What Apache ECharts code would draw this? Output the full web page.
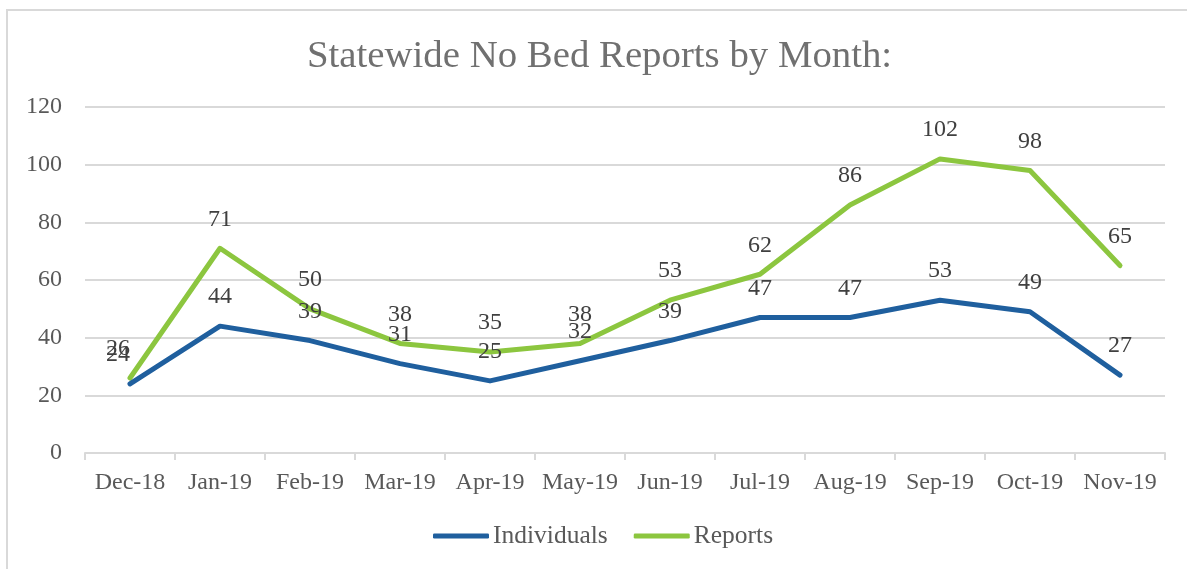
<!DOCTYPE html>
<html>
<head>
<meta charset="utf-8">
<script src="https://cdn.jsdelivr.net/npm/echarts@6/dist/echarts.min.js"></script>
<style>
  html, body { margin: 0; padding: 0; background: #fff; }
  #chart { width: 1187px; height: 569px; }
</style>
</head>
<body>
<div id="chart"></div>
<script>
  var months = ['Dec-18', 'Jan-19', 'Feb-19', 'Mar-19', 'Apr-19', 'May-19', 'Jun-19', 'Jul-19', 'Aug-19', 'Sep-19', 'Oct-19', 'Nov-19'];
  var individuals = [24, 44, 39, 31, 25, 32, 39, 47, 47, 53, 49, 27];
  var reports = [26, 71, 50, 38, 35, 38, 53, 62, 86, 102, 98, 65];
  var yTicks = [0, 20, 40, 60, 80, 100, 120];

  var font = '"Liberation Serif", "DejaVu Serif", serif';

  // the first labels sit a little left of their point, as in the original
  function withLabels(values) {
    return values.map(function (v, i) {
      return i === 0 ? { value: v, label: { offset: [-12, 0] } } : v;
    });
  }

  var labelStyle = { show: true, position: 'top', distance: 17, fontFamily: font, fontSize: 24, color: '#404040' };

  var chart = echarts.init(document.getElementById('chart'));

  chart.setOption({
    backgroundColor: '#fff',
    animation: false,
    textStyle: { fontFamily: font },
    graphic: [{
      type: 'rect',
      shape: { x: 7, y: 10, width: 1300, height: 700 },
      style: { fill: 'none', stroke: '#d9d9d9', lineWidth: 2 }
    }],
    title: {
      text: 'Statewide No Bed Reports by Month:',
      left: 302,
      top: 32,
      textStyle: { fontFamily: font, fontSize: 38.8, fontWeight: 'normal', color: '#707070' }
    },
    legend: {
      bottom: 15,
      left: 428,
      itemWidth: 56,
      itemHeight: 5,
      itemGap: 26,
      icon: 'roundRect',
      textStyle: { fontFamily: font, fontSize: 25.5, color: '#595959', padding: [0, 0, 0, -1] },
      data: ['Individuals', 'Reports']
    },
    grid: { left: 85, right: 22, top: 107, bottom: 116, containLabel: false },
    xAxis: {
      type: 'category',
      data: months,
      boundaryGap: true,
      axisLine: { lineStyle: { color: '#d9d9d9', width: 2 } },
      axisTick: { show: true, length: 7, interval: 0, lineStyle: { color: '#d9d9d9', width: 2 } },
      axisLabel: { fontFamily: font, fontSize: 24, color: '#595959', margin: 18, interval: 0 }
    },
    yAxis: {
      type: 'value',
      min: yTicks[0],
      max: yTicks[yTicks.length - 1],
      interval: yTicks[1] - yTicks[0],
      axisLine: { show: false },
      axisTick: { show: false },
      splitLine: { lineStyle: { color: '#d9d9d9', width: 2 } },
      axisLabel: { fontFamily: font, fontSize: 24, color: '#595959', margin: 23 }
    },
    series: [{
      name: 'Individuals',
      type: 'line',
      data: withLabels(individuals),
      symbol: 'circle',
      symbolSize: 0,
      showSymbol: true,
      color: '#1f5f9e',
      lineStyle: { width: 5, cap: 'round', join: 'round' },
      label: labelStyle,
      z: 3
    }, {
      name: 'Reports',
      type: 'line',
      data: withLabels(reports),
      symbol: 'circle',
      symbolSize: 0,
      showSymbol: true,
      color: '#8cc63f',
      lineStyle: { width: 5, cap: 'round', join: 'round' },
      label: labelStyle,
      z: 2
    }]
  });
</script>
</body>
</html>
